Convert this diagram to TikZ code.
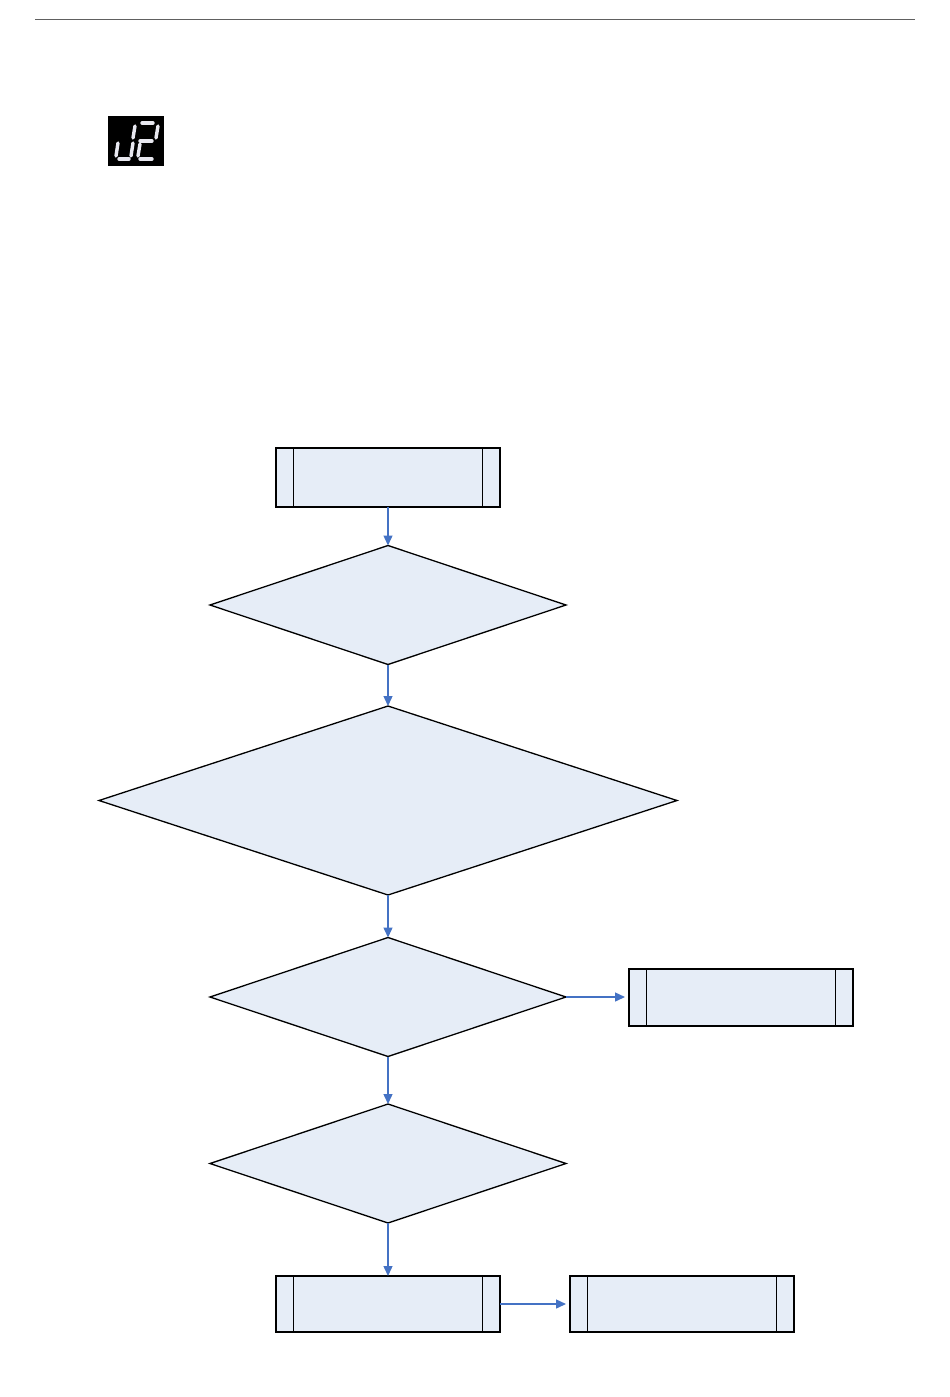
\documentclass[tikz,border=0pt]{standalone}
\usetikzlibrary{arrows.meta}
\definecolor{boxfill}{HTML}{E6EDF7}
\definecolor{arrowblue}{HTML}{4472C4}
\definecolor{rulegray}{HTML}{606060}
\definecolor{segwhite}{HTML}{E8E8F0}
\begin{document}
\begin{tikzpicture}[x=1pt,y=-1pt,
  shapeline/.style={draw=black,line width=1.3pt,fill=boxfill},
  flowarrow/.style={draw=arrowblue,line width=1.4pt,-{Triangle[length=10pt,width=9pt]}},
  seg/.style={draw=segwhite,line width=3.4pt,line cap=round}]
\useasboundingbox (0,0) rectangle (950,1397);
% top rule
\draw[rulegray,line width=1pt] (35,20) -- (915,20);
% 7-segment icon
\fill[black] (108,116) rectangle (164,166);
\draw[seg] (118,143) -- (116,156);
\draw[seg] (119,159) -- (129,159);
\draw[seg] (133,143) -- (131,156);
\draw[seg] (135,126) -- (133,138);
\draw[seg] (142,123) -- (153,123);
\draw[seg] (158,126) -- (156,138);
\draw[seg] (140,141) -- (152,141);
\draw[seg] (140,144) -- (138,156);
\draw[seg] (140,159) -- (152,159);
% subprocess boxes
\newcommand{\subproc}[5]{%
  \path[shapeline] (#2,#3) rectangle (#4,#5);
  \coordinate (#1-w) at (#2,{(#3+#5)/2});
  \coordinate (#1-e) at (#4,{(#3+#5)/2});
  \coordinate (#1-n) at ({(#2+#4)/2},#3);
  \coordinate (#1-s) at ({(#2+#4)/2},#5);
  \draw[line width=1.3pt] ({#2+17.5},#3) -- ({#2+17.5},#5);
  \draw[line width=1.3pt] ({#4-17.5},#3) -- ({#4-17.5},#5);}
\subproc{b1}{276}{448}{500}{507}
\subproc{b2}{629}{969}{853}{1026}
\subproc{b3}{276}{1276}{500}{1332}
\subproc{b4}{570}{1276}{794}{1332}
% diamonds
\newcommand{\decis}[5]{% name, cx, cy, halfw, halfh
  \path[shapeline] ({#2-#4},#3) -- (#2,{#3-#5}) -- ({#2+#4},#3) -- (#2,{#3+#5}) -- cycle;
  \coordinate (#1-n) at (#2,{#3-#5});
  \coordinate (#1-s) at (#2,{#3+#5});
  \coordinate (#1-e) at ({#2+#4},#3);}
\decis{d1}{388}{605}{178}{59.5}
\decis{d2}{388}{800.5}{289}{94.5}
\decis{d3}{388}{997}{178}{59.5}
\decis{d4}{388}{1163.5}{178}{59.5}
% connectors
\draw[flowarrow] (b1-s) -- (d1-n);
\draw[flowarrow] (d1-s) -- (d2-n);
\draw[flowarrow] (d2-s) -- (d3-n);
\draw[flowarrow,shorten >=4pt] (d3-e) -- (d3-e -| b2-w);
\draw[flowarrow] (d3-s) -- (d4-n);
\draw[flowarrow] (d4-s) -- (b3-n);
\draw[flowarrow,shorten >=4pt] (b3-e) -- (b4-w);
\end{tikzpicture}
\end{document}
